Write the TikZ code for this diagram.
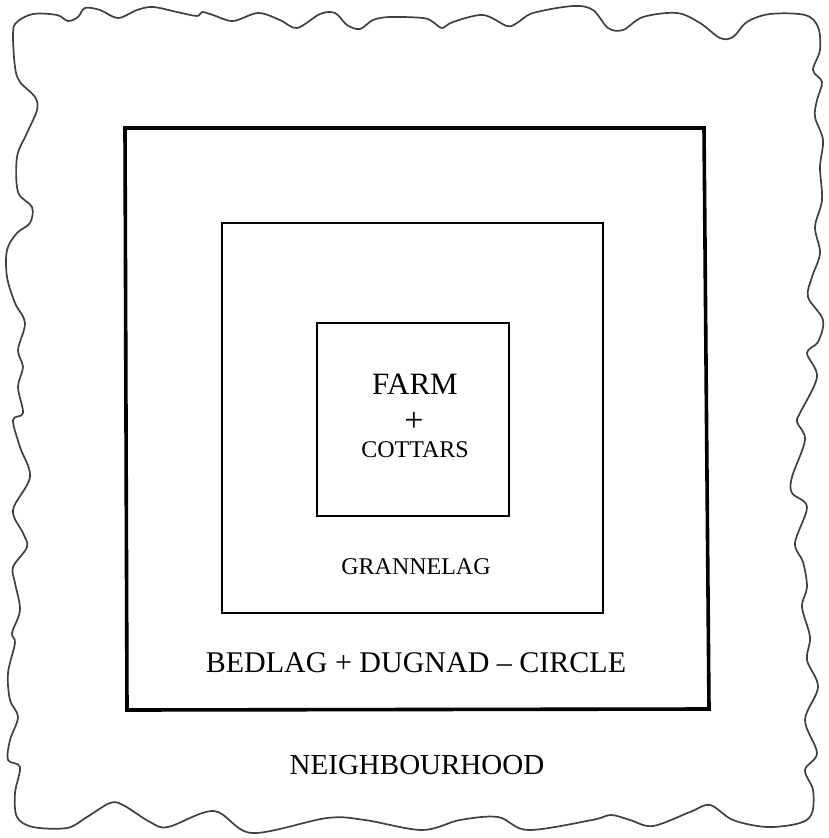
\documentclass[tikz,border=0pt]{standalone}
\usepackage{fontspec}
\setmainfont{Liberation Serif}
\tikzset{ringsec/.style={x=1pt,y=-1pt}}
\tikzset{ringbig/.style={line width=3.6pt,line join=miter},
         ringthin/.style={line width=1.7pt},
         wavy/.style={black!75,line width=1.7pt,line join=round},
         lbl/.style={anchor=base,inner sep=0pt}}

\begin{document}
\begin{tikzpicture}[ringsec]
    \useasboundingbox (0,0) rectangle (828,838);
    % rough outline of the neighbourhood
    \draw[wavy] plot[smooth cycle,tension=0.55] coordinates {
      (17,22) (33,14) (57,15) (68,21) (78,17) (85,8) (100,10) (118,18) (137,10)
      (153,7) (177,12) (197,16) (202,12) (213,15) (233,21) (258,13) (280,20)
      (297,28) (320,14) (335,13) (347,25) (360,29) (373,20) (390,17) (423,18)
      (433,22) (442,28) (453,22) (483,15) (507,26) (517,23) (533,13) (573,6)
      (593,10) (608,28) (623,30) (643,17) (677,13) (700,23) (720,38) (733,37)
      (747,22) (770,14) (805,15) (818,27)
      (820,50) (813,70) (822,82) (817,100) (815,117) (823,140) (820,167)
      (822,200) (815,227) (820,253) (812,277) (808,297) (823,320) (818,342)
      (807,353) (817,377) (800,413) (797,422) (805,440) (792,477) (792,493)
      (807,507) (795,543) (803,562) (807,587) (802,607) (810,637) (807,660)
      (818,687) (805,720) (817,753) (805,770) (813,790) (812,813)
      (800,823) (767,827) (733,820) (710,805) (690,812) (653,826) (630,820)
      (611,815) (592,820) (528,830) (498,817) (460,820) (422,830) (365,820)
      (327,818) (252,833) (214,811) (168,827) (150,822) (123,805) (110,803)
      (87,817) (67,828) (33,827) (17,817)
      (15,793) (20,767) (8,760) (10,740) (18,717) (10,700) (8,673) (15,643)
      (12,633) (20,610) (15,583) (13,567) (27,547) (23,533) (13,510) (30,477)
      (20,447) (13,420) (23,413) (18,387) (23,367) (18,350) (25,323) (15,303)
      (7,277) (7,250) (17,233) (30,223) (32,207) (18,192) (17,157) (27,133)
      (37,110) (35,97) (20,82) (15,67) (13,33)};
    % the three rings
    \draw[ringbig]  (125,128) -- (704,128) -- (709,709) -- (127,710) -- cycle;
    \draw[ringthin] (222,223) -- (603,223) -- (603,613) -- (222,613) -- cycle;
    \draw[ringthin] (317,323) -- (509,323) -- (509,516) -- (317,516) -- cycle;
    % labels
    \node[lbl,font=\fontsize{31}{31}\selectfont] (farm) at (415,394) {FARM};
    \node[lbl,font=\fontsize{34}{34}\selectfont] (plus) at (414,431) {+};
    \node[lbl,font=\fontsize{24}{24}\selectfont] (cottars) at (415,457) {COTTARS};
    \node[lbl,font=\fontsize{24}{24}\selectfont] (grannelag) at (416,574) {GRANNELAG};
    \node[lbl,font=\fontsize{30}{30}\selectfont] (bedlag) at (416,672) {BEDLAG + DUGNAD -- CIRCLE};
    \node[lbl,font=\fontsize{29}{29}\selectfont] (hood) at (417,774) {NEIGHBOURHOOD};
  \end{tikzpicture}
\end{document}
